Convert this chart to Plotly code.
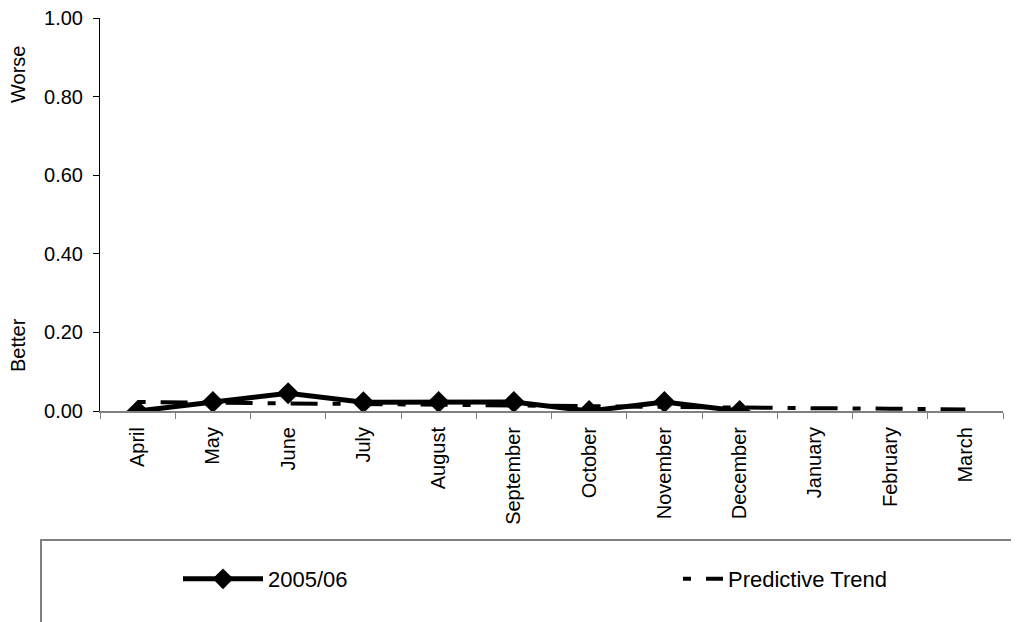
import plotly.graph_objects as go

months = ["April", "May", "June", "July", "August", "September", "October",
          "November", "December", "January", "February", "March"]
series_2005 = [0.0, 0.023, 0.045, 0.022, 0.023, 0.023, 0.0, 0.023, 0.0]
trend = [0.023, 0.021, 0.020, 0.018, 0.016, 0.014, 0.013, 0.011, 0.009, 0.007, 0.006, 0.004]
y_ticks = [0.0, 0.2, 0.4, 0.6, 0.8, 1.0]

FONT = "Liberation Sans, Arial, sans-serif"

fig = go.Figure()
fig.add_trace(go.Scatter(
    x=months, y=trend, mode="lines", name="Predictive Trend",
    line=dict(color="black", width=4, dash="8px,15px,27px,15px"),
    legend="legend2",
))
fig.add_trace(go.Scatter(
    x=months[:len(series_2005)], y=series_2005, mode="lines+markers", name="2005/06",
    line=dict(color="black", width=5),
    marker=dict(symbol="diamond", size=17, color="black", line=dict(width=0)),
    legend="legend",
))

# page body has an 8px margin: figure is drawn at screen offset (8, 8)
OFF = 8
W, H = 1019 - OFF, 622 - OFF
# plot area in screen pixels
SX0, SX1, SY0, SY1 = 100, 1003, 18, 411
L, T = SX0 - OFF, SY0 - OFF
R, B = W - (SX1 - OFF), H - (SY1 - OFF)
pw = SX1 - SX0
ph = SY1 - SY0

def px_x(p):
    return (p - SX0) / pw

def px_y(p):
    return (SY1 - p) / ph

fig.update_layout(
    width=W, height=H,
    margin=dict(l=L, r=R, t=T, b=B, autoexpand=False),
    paper_bgcolor="white", plot_bgcolor="white",
    font=dict(family=FONT, size=20, color="black"),
    showlegend=True,
    legend=dict(x=px_x(178), y=px_y(579), xanchor="left", yanchor="middle",
                orientation="h", bgcolor="rgba(0,0,0,0)", itemwidth=80,
                font=dict(size=22, family=FONT)),
    legend2=dict(x=px_x(678), y=px_y(579), xanchor="left", yanchor="middle",
                 orientation="h", bgcolor="rgba(0,0,0,0)", itemwidth=40,
                 font=dict(size=22, family=FONT)),
    xaxis=dict(
        type="category", categoryorder="array", categoryarray=months,
        range=[-0.5, len(months) - 0.5], automargin=False,
        tickangle=-90, tickson="boundaries", ticks="outside", ticklen=6,
        ticklabelstandoff=6, ticklabeloverflow="allow",
        tickcolor="#808080", showline=True, linecolor="#808080", linewidth=2,
        showgrid=False, zeroline=False,
        tickfont=dict(size=20, family=FONT),
    ),
    yaxis=dict(
        range=[0, 1], tickvals=y_ticks, tickformat=".2f", automargin=False,
        ticks="outside", ticklen=6, tickcolor="black", ticklabelstandoff=6,
        ticklabeloverflow="allow",
        showline=True, linecolor="black", linewidth=1,
        showgrid=False, zeroline=False,
        tickfont=dict(size=20, family=FONT),
    ),
    shapes=[dict(
        type="rect", xref="paper", yref="paper",
        x0=px_x(41), x1=px_x(1100), y0=px_y(540), y1=px_y(700),
        line=dict(color="#808080", width=2), fillcolor="rgba(0,0,0,0)",
    )],
    annotations=[
        dict(text="Worse", xref="paper", yref="paper", x=px_x(18), y=px_y(75),
             textangle=-90, showarrow=False, xanchor="center", yanchor="middle",
             font=dict(size=20, family=FONT)),
        dict(text="Better", xref="paper", yref="paper", x=px_x(18), y=px_y(345),
             textangle=-90, showarrow=False, xanchor="center", yanchor="middle",
             font=dict(size=20, family=FONT)),
    ],
)

fig.write_html("out.html")
